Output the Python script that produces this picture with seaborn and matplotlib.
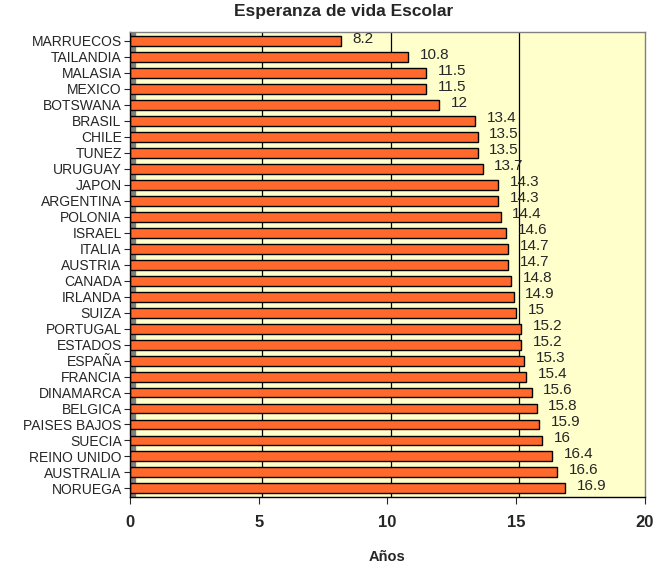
import matplotlib
matplotlib.use("Agg")
import matplotlib.pyplot as plt
import seaborn as sns
import pandas as pd

countries = ["MARRUECOS", "TAILANDIA", "MALASIA", "MEXICO", "BOTSWANA", "BRASIL",
             "CHILE", "TUNEZ", "URUGUAY", "JAPON", "ARGENTINA", "POLONIA", "ISRAEL",
             "ITALIA", "AUSTRIA", "CANADA", "IRLANDA", "SUIZA", "PORTUGAL", "ESTADOS",
             "ESPAÑA", "FRANCIA", "DINAMARCA", "BELGICA", "PAISES BAJOS", "SUECIA",
             "REINO UNIDO", "AUSTRALIA", "NORUEGA"]
years = [8.2, 10.8, 11.5, 11.5, 12, 13.4, 13.5, 13.5, 13.7, 14.3, 14.3, 14.4, 14.6,
         14.7, 14.7, 14.8, 14.9, 15, 15.2, 15.2, 15.3, 15.4, 15.6, 15.8, 15.9, 16,
         16.4, 16.6, 16.9]
x_ticks = [0, 5, 10, 15, 20]

df = pd.DataFrame({"pais": countries, "anos": years})

sns.set_style("white")
plt.rcParams["font.family"] = ["Liberation Sans", "DejaVu Sans"]

fig = plt.figure(figsize=(6.6, 5.65), dpi=100)
ax = fig.add_axes([0.197, 0.12, 0.78, 0.823])
ax.set_facecolor("#FFFFCC")

sns.barplot(data=df, x="anos", y="pais", orient="h", color="#FF6A2C",
            saturation=1, edgecolor="black", linewidth=1.0, width=0.62, ax=ax)

# grey side wall of the 3D-style plot
ax.axvspan(0, 0.18, color="#808080", zorder=0.5)
for xv in x_ticks[1:-1]:
    ax.axvline(xv + 0.12, color="black", lw=0.9, zorder=0.6)

for i, v in enumerate(years):
    ax.text(v + 0.45, i - 0.15, f"{v:g}", va="center", ha="left", fontsize=11)

ax.set_xlim(0, 20)
ax.set_ylim(len(countries) - 0.45, -0.55)
ax.set_xticks(x_ticks)
ax.set_xticklabels([str(t) for t in x_ticks], fontsize=12, fontweight="bold")
ax.tick_params(axis="x", length=5, width=0.8, pad=8, direction="out", bottom=True)
ax.tick_params(axis="y", length=4, width=0.8, labelsize=10, pad=2, left=True)
ax.set_yticks(range(len(countries)))
ax.set_yticklabels(countries)

for s in ax.spines.values():
    s.set_color("#808080")
    s.set_linewidth(1.0)
ax.spines["left"].set_color("black")
ax.spines["bottom"].set_color("black")

ax.set_ylabel("")
ax.set_xlabel("")
fig.text(0.586, 0.014, "Años", ha="center", va="center", fontsize=10.5, fontweight="bold")
fig.text(0.52, 0.979, "Esperanza de vida Escolar", ha="center", va="center",
         fontsize=12.5, fontweight="bold")

fig.savefig("out.png", dpi=100)
